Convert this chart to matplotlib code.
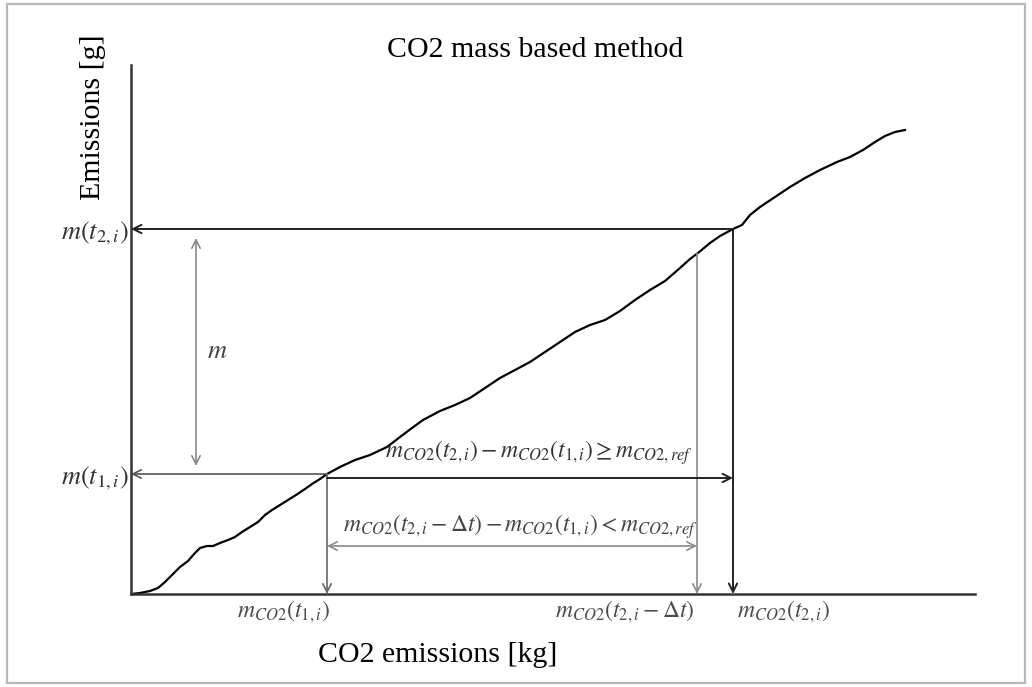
import matplotlib.pyplot as plt
from matplotlib.patches import Rectangle

plt.rcParams['font.family'] = ['Liberation Serif', 'DejaVu Serif']
plt.rcParams['mathtext.fontset'] = 'stix'

# cumulative curve (CO2 mass on x, pollutant mass on y), arbitrary units
curve_x = [0, 9, 19, 27, 34, 41, 49, 57, 64, 69, 76, 82, 89, 97, 104, 111, 119, 127,
           134, 141, 149, 157, 165, 174, 181, 189, 196, 209, 224, 239, 256, 269, 281,
           292, 309, 324, 339, 354, 369, 384, 399, 414, 429, 444, 459, 474, 489, 504,
           519, 534, 549, 559, 567, 579, 589, 602, 611, 619, 629, 644, 659, 674, 689,
           706, 719, 732, 744, 754, 764, 774]
curve_y = [0, 1, 3, 6, 12, 19, 27, 33, 41, 46, 48, 48, 51, 54, 57, 62, 67, 72,
           79, 84, 89, 94, 99, 105, 110, 115, 120, 127, 134, 139, 147, 157, 166,
           174, 183, 189, 196, 206, 216, 224, 232, 242, 252, 262, 269, 274, 283, 294,
           304, 313, 326, 335, 341, 351, 358, 365, 369, 379, 387, 397, 407, 416, 424,
           432, 437, 444, 452, 458, 462, 464]

x_t1 = 196        # m_CO2(t1,i)
x_t2dt = 566      # m_CO2(t2,i - dt)
x_t2 = 602        # m_CO2(t2,i)
y_t1 = 120        # m(t1,i)
y_t2 = 365        # m(t2,i)
y_t2dt = 341      # curve height at t2,i - dt
y_dt = 0          # x axis level

dark = '#222222'
grey = '#8a8a8a'

fig = plt.figure(figsize=(10.32, 6.87), dpi=100)
ax = fig.add_axes([131 / 1032, 93 / 687, 844 / 1032, 529 / 687])
ax.set_xlim(0, 844)
ax.set_ylim(0, 529)
for s in ['top', 'right']:
    ax.spines[s].set_visible(False)
for s in ['left', 'bottom']:
    ax.spines[s].set_color('#333333')
    ax.spines[s].set_linewidth(1.8)
ax.set_xticks([])
ax.set_yticks([y_t1, y_t2])
ax.set_yticklabels([r'$m(t_{1,i})$', r'$m(t_{2,i})$'], fontsize=19, color='#333333')
ax.tick_params(axis='y', length=0, pad=2)
ax.patch.set_alpha(0)

ax.plot(curve_x, curve_y, color='black', lw=1.6)


def arrow(x0, y0, x1, y1, color, style='->', lw=1.2):
    ax.annotate('', xy=(x1, y1), xytext=(x0, y0),
                arrowprops=dict(arrowstyle=style + ',head_length=0.6,head_width=0.3',
                                color=color, lw=lw, shrinkA=0, shrinkB=0))


# horizontal projections onto the y axis
arrow(x_t2, y_t2, 0, y_t2, dark, lw=1.4)
arrow(x_t1, y_t1, 0, y_t1, '#555555')
# m span
arrow(65, y_t2 - 9, 65, y_t1 + 8, grey, style='<->')
ax.text(86, 242, r'$m$', fontsize=19, color='#444444', ha='center', va='center')

# vertical projections onto the x axis
arrow(x_t1, y_t1, x_t1, y_dt, '#666666')
arrow(x_t2dt, y_t2dt, x_t2dt, y_dt, grey)
arrow(x_t2, y_t2, x_t2, y_dt, dark, lw=1.4)

# spans along x
arrow(x_t1, 116, x_t2, 116, dark, lw=1.4)
arrow(x_t1, 48, x_t2dt, 48, grey, style='<->')

ax.text(408, 141, r'$m_{CO2}(t_{2,i}) - m_{CO2}(t_{1,i}) \geq m_{CO2,ref}$',
        fontsize=17, color='#333333', ha='center', va='center')
ax.text(389, 67, r'$m_{CO2}(t_{2,i} - \Delta t) - m_{CO2}(t_{1,i}) < m_{CO2,ref}$',
        fontsize=17, color='#444444', ha='center', va='center')

ax.text(x_t1 + 3, -18, r'$m_{CO2}(t_{1,i})$', fontsize=17, color='#4a4a4a',
        ha='right', va='center')
ax.text(x_t2dt - 2, -18, r'$m_{CO2}(t_{2,i} - \Delta t)$', fontsize=17, color='#4a4a4a',
        ha='right', va='center')
ax.text(x_t2 + 4, -18, r'$m_{CO2}(t_{2,i})$', fontsize=17, color='#4a4a4a',
        ha='left', va='center')

fig.text(535 / 1032, 1 - 50 / 687, 'CO2 mass based method', fontsize=21.5,
         ha='center', va='center', color='black')
fig.text(438 / 1032, 1 - 655 / 687, 'CO2 emissions [kg]', fontsize=21.5,
         ha='center', va='center', color='black')
fig.text(93 / 1032, 1 - 117 / 687, 'Emissions [g]', fontsize=21.5, rotation=90,
         ha='center', va='center', color='black')

fig.patches.append(Rectangle((7 / 1032, 4 / 687), 1018 / 1032, 679 / 687,
                             transform=fig.transFigure, fill=False,
                             ec='#b8b8b8', lw=1.6))

fig.savefig('out.png', dpi=100)
